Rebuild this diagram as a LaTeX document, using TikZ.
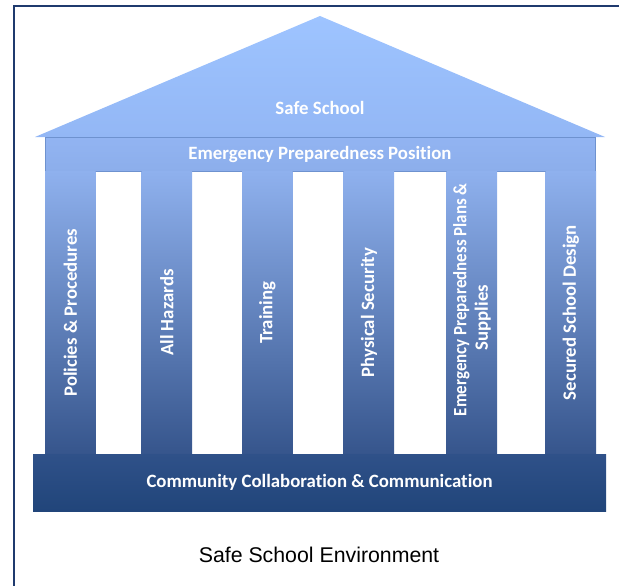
\documentclass[tikz,border=0pt]{standalone}
\usepackage{fontspec}
\setmainfont{Carlito}[Ligatures={NoCommon}]
\newfontfamily\arialf{Liberation Sans}
\definecolor{roofTop}{HTML}{9EC4FF}
\definecolor{roofBot}{HTML}{93B7F5}
\definecolor{entTop}{HTML}{92B4F2}
\definecolor{entBot}{HTML}{8CAEEB}
\definecolor{entLine}{HTML}{6E92CF}
\definecolor{colTop}{HTML}{8FB1EE}
\definecolor{colBot}{HTML}{36558C}
\definecolor{baseTop}{HTML}{2F5189}
\definecolor{baseBot}{HTML}{21457A}
\definecolor{frameNavy}{HTML}{1F3A6E}
\begin{document}
\begin{tikzpicture}[x=1pt,y=-1pt,
  lbl/.style={text=white,font=\fontsize{18.8}{21.5}\selectfont\bfseries,inner sep=0pt,align=center},
  colbox/.style={top color=colTop,bottom color=colBot,draw=none,minimum width=50.5pt,minimum height=283pt,inner sep=0pt,anchor=north west},
  entbox/.style={top color=entTop,bottom color=entBot,draw=entLine,line width=0.8pt,minimum width=550pt,minimum height=34pt,inner sep=0pt},
  basebox/.style={top color=baseTop,bottom color=baseBot,draw=none,minimum width=573pt,minimum height=57pt,inner sep=0pt},
  frameline/.style={draw=frameNavy,line width=1.7pt}]
\useasboundingbox (0,0) rectangle (619,586);
% frame
\coordinate (fbl) at (14.2,586);
\coordinate (ftl) at (14.2,6);
\coordinate (ftr) at (619,6);
\draw[frameline] (fbl) -- (ftl) -- (ftr);
% roof
\coordinate (rl) at (35,137);
\coordinate (rt) at (320,16);
\coordinate (rr) at (605,137);
\shade[top color=roofTop,bottom color=roofBot] (rl) -- (rt) -- (rr) -- cycle;
\node[lbl] (roof) at (320,108) {Safe School};
% entablature
\node[entbox,lbl] (ent) at (320,154) {Emergency Preparedness Position};
% columns
\node[colbox] (c1) at (45,171) {};
\node[colbox] (c2) at (141.5,171) {};
\node[colbox] (c3) at (242,171) {};
\node[colbox] (c4) at (343.5,171) {};
\node[colbox] (c5) at (446.5,171) {};
\node[colbox] (c6) at (545.5,171) {};
\node[lbl,rotate=90] (t1) at (c1.center) {Policies \& Procedures};
\node[lbl,rotate=90] (t2) at (c2.center) {All Hazards};
\node[lbl,rotate=90] (t3) at (c3.center) {Training};
\node[lbl,rotate=90] (t4) at (c4.center) {Physical Security};
\node[lbl,rotate=90] (t5) at ([yshift=4pt]c5.center) {\hspace*{18pt}\scalebox{0.9}[1]{Emergency Preparedness Plans \&}\\Supplies\hspace*{18pt}};
\node[lbl,rotate=90] (t6) at (c6.center) {Secured School Design};
% base
\node[basebox,lbl] (base) at (319.5,482.5) {Community Collaboration \& Communication};
% caption
\node[font=\arialf\fontsize{21.3}{24}\selectfont,anchor=base,inner sep=0pt] (cap) at (319,562) {Safe School Environment};
\end{tikzpicture}
\end{document}
